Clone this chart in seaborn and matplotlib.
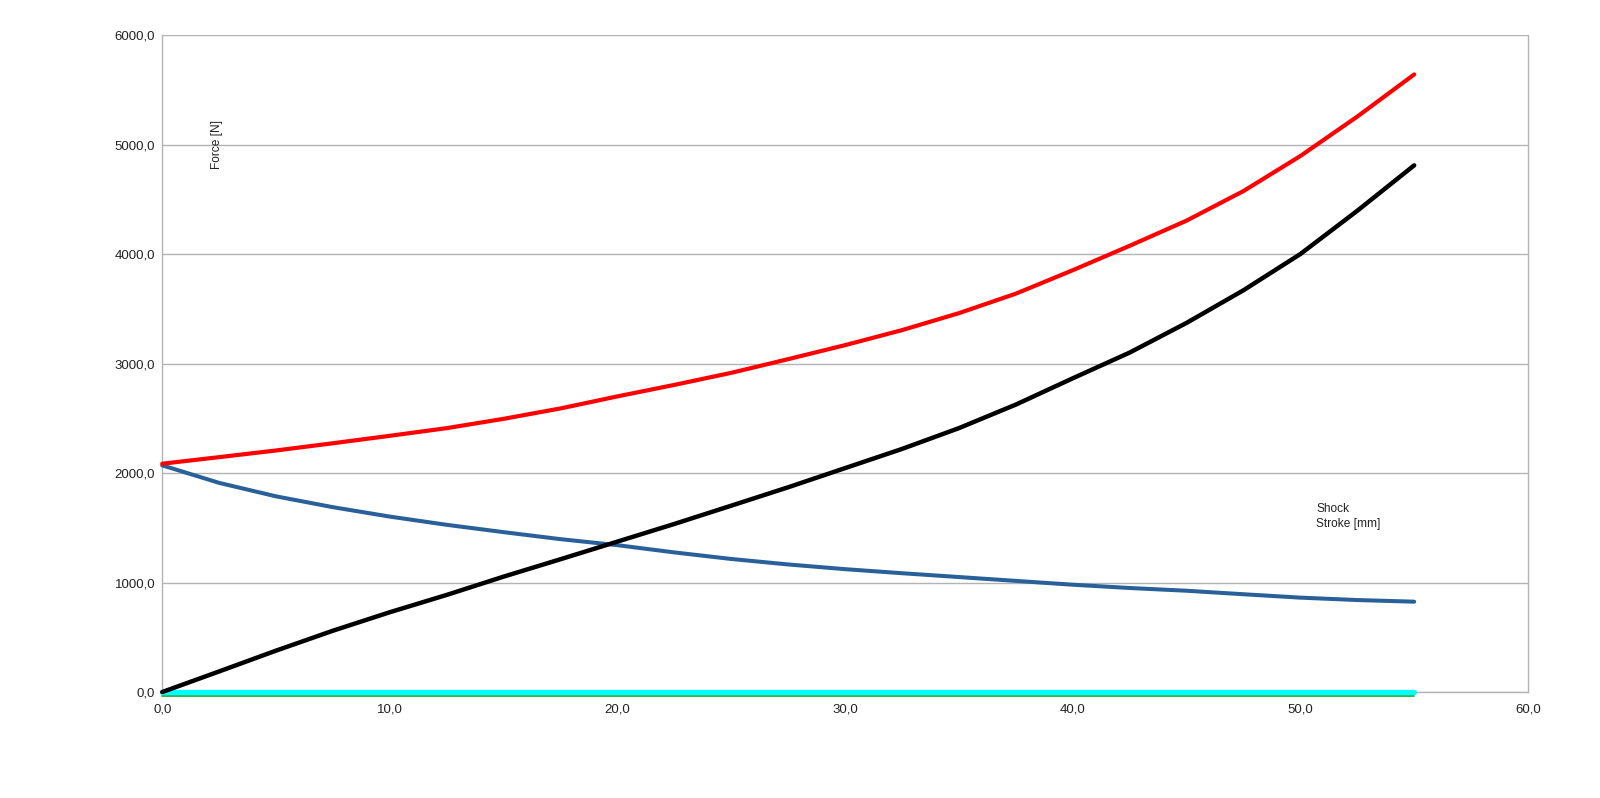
import pandas as pd
import numpy as np
import matplotlib
matplotlib.use("Agg")
import matplotlib.pyplot as plt
import matplotlib.transforms as mtransforms
import seaborn as sns
from matplotlib.ticker import FuncFormatter, MultipleLocator

# values (shock stroke in mm, force in N)
stroke = [0, 2.5, 5, 7.5, 10, 12.5, 15, 17.5, 20, 22.5, 25, 27.5,
          30, 32.5, 35, 37.5, 40, 42.5, 45, 47.5, 50, 52.5, 55]
force_red = [2085, 2145, 2206, 2272, 2340, 2410, 2495, 2590, 2700, 2805, 2915, 3040,
             3168, 3305, 3460, 3638, 3852, 4075, 4305, 4575, 4895, 5255, 5640]
force_black = [0, 188, 378, 560, 729, 887, 1054, 1213, 1374, 1535, 1702, 1870,
               2045, 2220, 2410, 2625, 2865, 3100, 3371, 3669, 4000, 4395, 4810]
force_blue = [2070, 1910, 1787, 1688, 1602, 1527, 1460, 1396, 1341, 1275, 1215, 1165,
              1122, 1085, 1050, 1015, 980, 950, 925, 893, 862, 840, 825]
force_zero = [0] * len(stroke)

series_names = ["green", "cyan", "blue", "black", "red"]
series_colors = ["#00a933", "#00ffff", "#2a6099", "#000000", "#ff0000"]
series_widths = [1.2, 3.8, 2.9, 3.2, 3.0]

df = pd.concat([
    pd.DataFrame({"stroke": stroke, "force": force_zero, "series": "green"}),
    pd.DataFrame({"stroke": stroke, "force": force_zero, "series": "cyan"}),
    pd.DataFrame({"stroke": stroke, "force": force_blue, "series": "blue"}),
    pd.DataFrame({"stroke": stroke, "force": force_black, "series": "black"}),
    pd.DataFrame({"stroke": stroke, "force": force_red, "series": "red"}),
])

sns.set_style("white")
plt.rcParams['font.family'] = ['Liberation Sans', 'DejaVu Sans']

fig = plt.figure(figsize=(16, 7.98), dpi=100)
ax = fig.add_axes([0.1014, 0.1328, 0.8536, 0.8233])

for name, col, lw in zip(series_names, series_colors, series_widths):
    sub = df[df["series"] == name]
    sns.lineplot(data=sub, x="stroke", y="force", color=col, linewidth=lw,
                 sort=False, ax=ax, legend=False)

for ln in ax.lines:
    ln.set_clip_on(False)
    ln.set_zorder(3)
# the green series sits just under the cyan one at zero
ax.lines[0].set_transform(ax.transData + mtransforms.ScaledTranslation(0, -3.5 / 100, fig.dpi_scale_trans))

ax.set_xlim(0, 60)
ax.set_ylim(0, 6000)
ax.xaxis.set_major_locator(MultipleLocator(10))
ax.yaxis.set_major_locator(MultipleLocator(1000))
comma = FuncFormatter(lambda v, p: f"{v:.1f}".replace(".", ","))
ax.xaxis.set_major_formatter(comma)
ax.yaxis.set_major_formatter(comma)

ax.grid(axis="y", color="#b3b3b3", linewidth=1)
ax.set_axisbelow(True)
for s in ["left", "bottom", "right"]:
    ax.spines[s].set_color("#b3b3b3")
    ax.spines[s].set_linewidth(1)
ax.spines["top"].set_visible(False)
ax.tick_params(axis="both", length=3.5, width=1, color="#b3b3b3",
               labelsize=9.5, labelcolor="#222222")
ax.tick_params(axis="y", pad=1.5)
ax.tick_params(axis="x", pad=5)
ax.set_xlabel("")
ax.set_ylabel("")

ax.text(2.4, 5000, "Force [N]", rotation=90, fontsize=8.6, color="#222222",
        ha="center", va="center")
ax.text(50.7, 1600, "Shock\nStroke [mm]", fontsize=8.6, color="#222222",
        ha="left", va="center", linespacing=1.3)

fig.savefig("out.png", dpi=100, facecolor="white")
